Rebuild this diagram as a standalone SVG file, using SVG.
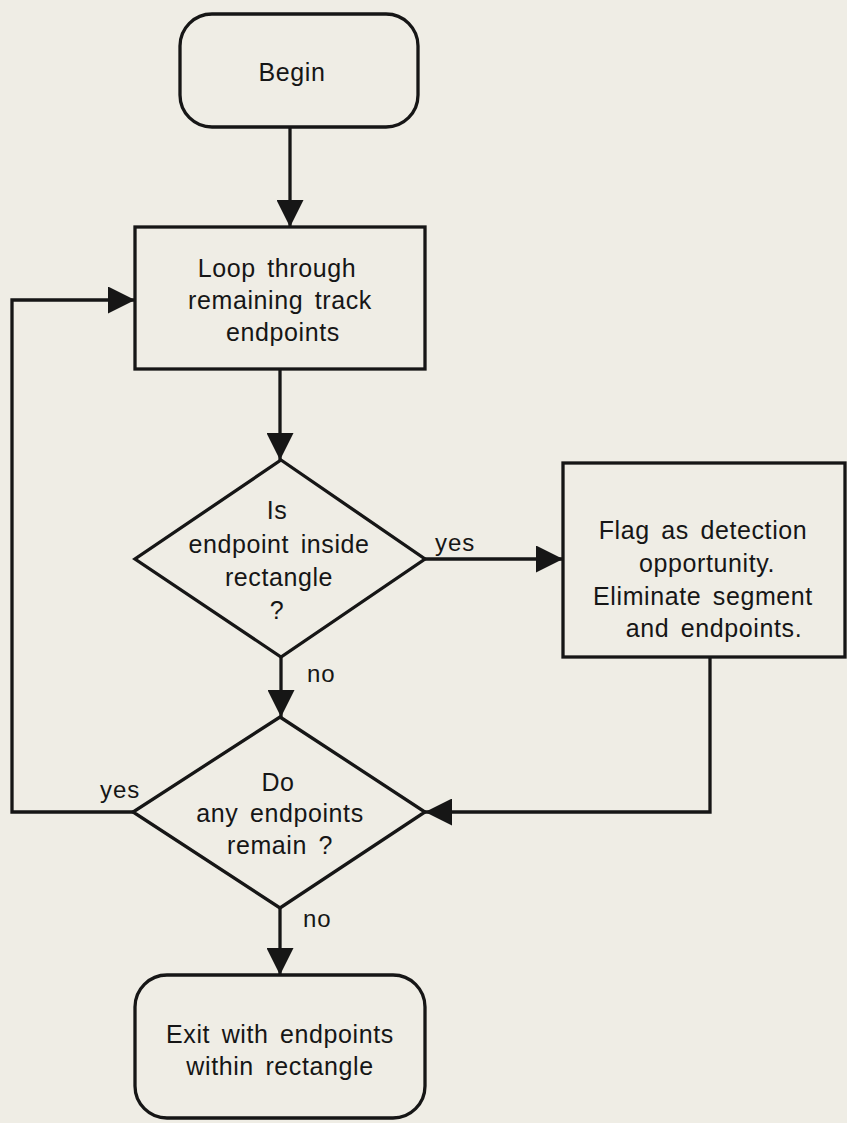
<svg xmlns="http://www.w3.org/2000/svg" width="847" height="1123" viewBox="0 0 847 1123">
  <style>
    .shape { fill: none; stroke: #161616; stroke-width: 3.3; stroke-linejoin: miter; }
    .wire { fill: none; stroke: #161616; stroke-width: 3.3; }
    .lbl { font-family: "Liberation Sans", Arial, sans-serif; font-size: 25px; fill: #161616; text-anchor: middle; letter-spacing: 0.6px; word-spacing: 4px; }
    .tag { font-family: "Liberation Sans", Arial, sans-serif; font-size: 24px; fill: #161616; letter-spacing: 1px; }
  </style>
  <defs>
    <marker id="head" markerUnits="userSpaceOnUse" markerWidth="27" markerHeight="27" viewBox="0 0 26 26" refX="26" refY="13" orient="auto">
      <path d="M0,0 L26,13 L0,26 Z" fill="#161616"/>
    </marker>
  </defs>

  <rect width="847" height="1123" fill="#efede5"/>

  <g id="begin">
    <rect class="shape" x="180" y="14" width="238" height="113" rx="32" ry="32"/>
    <text class="lbl" x="292" y="81">Begin</text>
  </g>

  <g id="loop">
    <rect class="shape" x="135" y="227" width="290" height="142"/>
    <text class="lbl" x="277" y="277">Loop through</text>
    <text class="lbl" x="280" y="309">remaining  track</text>
    <text class="lbl" x="283" y="341">endpoints</text>
  </g>

  <g id="inside">
    <polygon class="shape" points="281,460 425,559 281,657 135,559"/>
    <text class="lbl" x="277" y="519">Is</text>
    <text class="lbl" x="279" y="553">endpoint inside</text>
    <text class="lbl" x="279" y="586">rectangle</text>
    <text class="lbl" x="277" y="619">?</text>
  </g>

  <g id="flag">
    <rect class="shape" x="563" y="463" width="282" height="194"/>
    <text class="lbl" x="703" y="539">Flag as detection</text>
    <text class="lbl" x="707" y="572">opportunity.</text>
    <text class="lbl" x="703" y="605">Eliminate segment</text>
    <text class="lbl" x="714" y="637">and endpoints.</text>
  </g>

  <g id="remain">
    <polygon class="shape" points="280,717 425,812 280,908 133,812"/>
    <text class="lbl" x="278" y="791">Do</text>
    <text class="lbl" x="280" y="822">any endpoints</text>
    <text class="lbl" x="280" y="854">remain  ?</text>
  </g>

  <g id="exit">
    <rect class="shape" x="135" y="975" width="290" height="143" rx="32" ry="32"/>
    <text class="lbl" x="280" y="1043">Exit  with  endpoints</text>
    <text class="lbl" x="280" y="1075">within  rectangle</text>
  </g>

  <g id="connectors">
    <path class="wire" d="M290,127 L290,227" marker-end="url(#head)"/>
    <path class="wire" d="M280,369 L280,460" marker-end="url(#head)"/>
    <path class="wire" d="M425,559 L563,559" marker-end="url(#head)"/>
    <path class="wire" d="M281,657 L281,717" marker-end="url(#head)"/>
    <path class="wire" d="M710,657 L710,812 L425,812" marker-end="url(#head)"/>
    <path class="wire" d="M133,812 L12,812 L12,300 L135,300" marker-end="url(#head)"/>
    <path class="wire" d="M280,908 L280,975" marker-end="url(#head)"/>
    <text class="tag" x="435" y="551">yes</text>
    <text class="tag" x="307" y="682">no</text>
    <text class="tag" x="100" y="798">yes</text>
    <text class="tag" x="303" y="927">no</text>
  </g>
</svg>
